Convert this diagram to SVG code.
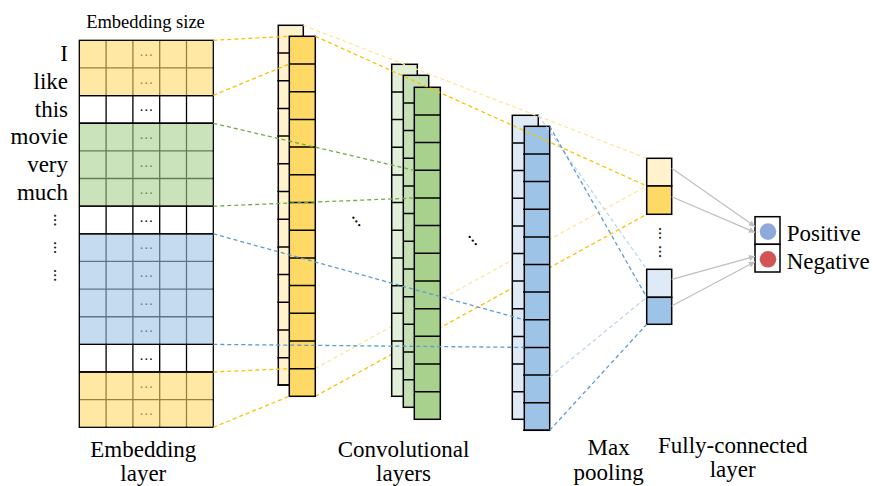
<svg xmlns="http://www.w3.org/2000/svg" width="873" height="486" viewBox="0 0 873 486">
<defs>
<style>
text{font-family:'Liberation Serif','Tinos','DejaVu Serif',serif}
.lbl{font-size:23px;fill:#000}
.sm{font-size:18.5px;fill:#000}
.dots{font-size:14px;fill:#000;text-anchor:middle}
.vd{font-size:13px;fill:#222;text-anchor:middle;font-weight:bold}
.grid{stroke:#000;stroke-width:1.3;fill:none}
.cell{stroke:#000;stroke-width:1.5}
.dash{fill:none;stroke-width:1.3;stroke-dasharray:4 3}
.or{stroke:#ffc000}
.ly{stroke:#ffe699}
.gr{stroke:#70ad47}
.bl{stroke:#5b9bd5}
.lb{stroke:#bdd7ee}
.fc{stroke:#bfbfbf;stroke-width:1.2;fill:none;marker-end:url(#ah)}
</style>
<marker id="ah" viewBox="0 0 10 10" refX="10" refY="5" markerWidth="7" markerHeight="6" orient="auto" markerUnits="userSpaceOnUse">
<path d="M0,0 L10,5 L0,10 z" fill="#bfbfbf"/>
</marker>
</defs>
<rect width="873" height="486" fill="#fff"/>

<g id="embedding-layer">
<text class="sm" x="145.5" y="28.3" text-anchor="middle" font-family="Liberation Serif, serif">Embedding size</text>
<g class="lbl" text-anchor="end" font-family="Liberation Serif, serif">
<text x="68" y="61.4">I</text>
<text x="68" y="89.1">like</text>
<text x="68" y="116.7">this</text>
<text x="68" y="144.4">movie</text>
<text x="68" y="172">very</text>
<text x="68" y="199.6">much</text>
</g>
<g class="vd">
<text x="54.3" y="220" transform="rotate(90 54.3 220)">…</text>
<text x="54.3" y="247.6" transform="rotate(90 54.3 247.6)">…</text>
<text x="54.3" y="275.3" transform="rotate(90 54.3 275.3)">…</text>
</g>
<path class="grid" d="M106.1,40.3V427.3M132.9,40.3V427.3M159.7,40.3V427.3M186.5,40.3V427.3M79.3,67.94H213.3M79.3,95.59H213.3M79.3,123.23H213.3M79.3,150.87H213.3M79.3,178.52H213.3M79.3,206.16H213.3M79.3,233.8H213.3M79.3,261.44H213.3M79.3,289.09H213.3M79.3,316.73H213.3M79.3,344.37H213.3M79.3,372.02H213.3M79.3,399.66H213.3"/>
<g class="dots">
<text x="146.3" y="55.9">…</text>
<text x="146.3" y="83.6">…</text>
<text x="146.3" y="111.2">…</text>
<text x="146.3" y="138.9">…</text>
<text x="146.3" y="166.5">…</text>
<text x="146.3" y="194.1">…</text>
<text x="146.3" y="221.8">…</text>
<text x="146.3" y="249.4">…</text>
<text x="146.3" y="277.1">…</text>
<text x="146.3" y="304.7">…</text>
<text x="146.3" y="332.4">…</text>
<text x="146.3" y="360">…</text>
<text x="146.3" y="387.6">…</text>
<text x="146.3" y="415.3">…</text>
</g>
<rect x="80" y="41" width="132.6" height="53.9" fill="#ffd966" fill-opacity="0.6"/>
<rect x="80" y="123.9" width="132.6" height="81.6" fill="#a9d18e" fill-opacity="0.6"/>
<rect x="80" y="234.5" width="132.6" height="109.2" fill="#9dc3e6" fill-opacity="0.6"/>
<rect x="80" y="372.7" width="132.6" height="53.9" fill="#ffd966" fill-opacity="0.6"/>
<rect class="grid" x="79.3" y="40.3" width="134" height="387"/>
<path class="grid" d="M79.3,95.59H213.3M79.3,123.23H213.3M79.3,206.16H213.3M79.3,233.8H213.3M79.3,344.37H213.3M79.3,372.02H213.3"/>
<text class="lbl" x="143.3" y="456.5" text-anchor="middle">Embedding</text>
<text class="lbl" x="143.3" y="481" text-anchor="middle">layer</text>
</g>

<g id="hidden-connectors">
<path class="dash ly" d="M315.3,368.5L646.7,186"/>
<path class="dash or" d="M315.3,396.3L646.7,214.3"/>
</g>

<g id="conv-first">
<rect class="cell" x="278.3" y="25.3" width="25" height="359.7" fill="#fff2cc"/>
<path class="cell" d="M277.3,53H290M277.3,80.7H290M277.3,108.4H290M277.3,136.1H290M277.3,163.8H290M277.3,191.5H290M277.3,219.2H290M277.3,246.9H290M277.3,274.6H290M277.3,302.3H290M277.3,330H290M277.3,357.7H290M277.3,385H290"/>
<rect class="cell" x="289.3" y="36.3" width="26" height="360" fill="#ffd966"/>
<path class="cell" d="M289.3,64H315.3M289.3,91.7H315.3M289.3,119.4H315.3M289.3,147.1H315.3M289.3,174.8H315.3M289.3,202.5H315.3M289.3,230.2H315.3M289.3,257.9H315.3M289.3,285.6H315.3M289.3,313.3H315.3M289.3,341H315.3M289.3,368.7H315.3"/>
</g>

<g id="conv-layers">
<rect class="cell" x="391.7" y="64.3" width="25.6" height="332" fill="#e2f0d9"/>
<path class="cell" d="M391.7,92H417.3M391.7,119.6H417.3M391.7,147.3H417.3M391.7,175H417.3M391.7,202.6H417.3M391.7,230.3H417.3M391.7,258H417.3M391.7,285.7H417.3M391.7,313.3H417.3M391.7,341H417.3M391.7,368.7H417.3"/>
<rect class="cell" x="403.3" y="75.3" width="25.4" height="332" fill="#c5e0b4"/>
<path class="cell" d="M403.3,103H428.7M403.3,130.6H428.7M403.3,158.3H428.7M403.3,186H428.7M403.3,213.6H428.7M403.3,241.3H428.7M403.3,269H428.7M403.3,296.7H428.7M403.3,324.3H428.7M403.3,352H428.7M403.3,379.7H428.7"/>
<rect class="cell" x="414.3" y="87.3" width="26" height="332" fill="#a9d18e"/>
<path class="cell" d="M414.3,115H440.3M414.3,142.6H440.3M414.3,170.3H440.3M414.3,198H440.3M414.3,225.6H440.3M414.3,253.3H440.3M414.3,281H440.3M414.3,308.7H440.3M414.3,336.3H440.3M414.3,364H440.3M414.3,391.7H440.3"/>
<text class="dots" x="355.5" y="222" transform="rotate(52 355.5 222)" font-weight="bold" font-size="12">…</text>
<text class="lbl" x="403.5" y="456.5" text-anchor="middle">Convolutional</text>
<text class="lbl" x="403.5" y="481" text-anchor="middle">layers</text>
</g>

<g id="max-pooling">
<rect class="cell" x="512.3" y="115.3" width="26" height="304" fill="#deebf7"/>
<path class="cell" d="M512.3,142.9H525M512.3,170.6H525M512.3,198.2H525M512.3,225.9H525M512.3,253.5H525M512.3,281.1H525M512.3,308.8H525M512.3,336.4H525M512.3,364.1H525M512.3,391.7H525"/>
<rect class="cell" x="524.3" y="126.3" width="25.4" height="304" fill="#9dc3e6"/>
<path class="cell" d="M523,153.9H549.7M523,181.6H549.7M523,209.2H549.7M523,236.9H549.7M523,264.5H549.7M523,292.1H549.7M523,319.8H549.7M523,347.4H549.7M523,375.1H549.7M523,402.7H549.7M523,430.3H549.7"/>
<text class="dots" x="472" y="241" transform="rotate(50 472 241)" font-weight="bold" font-size="12">…</text>
<text class="lbl" x="608.7" y="455" text-anchor="middle">Max</text>
<text class="lbl" x="608.7" y="479.5" text-anchor="middle">pooling</text>
</g>

<g id="fully-connected">
<rect class="cell" x="646.7" y="158.3" width="25" height="27.7" fill="#fff2cc"/>
<rect class="cell" x="646.7" y="186" width="25" height="28.3" fill="#ffd966"/>
<rect class="cell" x="646.7" y="269.3" width="25" height="28" fill="#deebf7"/>
<rect class="cell" x="646.7" y="297.3" width="25" height="27" fill="#9dc3e6"/>
<g class="vd" font-size="11">
<text x="659.3" y="233.3" transform="rotate(90 659.3 233.3)">…</text>
<text x="659.3" y="251.5" transform="rotate(90 659.3 251.5)">…</text>
</g>
<text class="lbl" x="732.7" y="453" text-anchor="middle">Fully-connected</text>
<text class="lbl" x="732.7" y="477" text-anchor="middle">layer</text>
</g>

<g id="output">
<rect class="cell" x="755" y="216.7" width="25" height="27.6" fill="#fff"/>
<rect class="cell" x="755" y="244.3" width="25" height="27.7" fill="#fff"/>
<circle cx="768" cy="231.6" r="8.3" fill="#8eaadb"/>
<circle cx="768" cy="259.3" r="8.3" fill="#d35454"/>
<text class="lbl" x="786.7" y="241.3">Positive</text>
<text class="lbl" x="786.7" y="268.5">Negative</text>
</g>

<g id="connectors">
<path class="dash or" d="M213.3,40.3L289.3,36.3"/>
<path class="dash or" d="M213.3,95.3L289.3,64"/>
<path class="dash or" d="M213.3,372L289.3,368.7"/>
<path class="dash or" d="M213.3,427.3L289.3,396.3"/>
<path class="dash gr" d="M213.3,123.3L414.3,170.3"/>
<path class="dash gr" d="M213.3,206.2L414.3,198"/>
<path class="dash bl" d="M213.3,233.8L524.3,319.8"/>
<path class="dash bl" d="M213.3,344.4L524.3,347.4"/>
<path class="dash ly" d="M303.3,25.3L646.7,158.3"/>
<path class="dash or" d="M315.3,36.3L646.7,186"/>
<path class="dash lb" d="M538.3,115.3L646.7,269.3"/>
<path class="dash bl" d="M549.7,126.3L646.7,297.3"/>
<path class="dash lb" d="M549.7,377L646.7,297.3"/>
<path class="dash bl" d="M549.7,430.3L646.7,324.3"/>
<path class="fc" d="M671.7,168.3L755,226.5"/>
<path class="fc" d="M671.7,196.7L755,232.4"/>
<path class="fc" d="M671.7,279.3L755,256.3"/>
<path class="fc" d="M671.7,306L755,261.8"/>
</g>
</svg>
